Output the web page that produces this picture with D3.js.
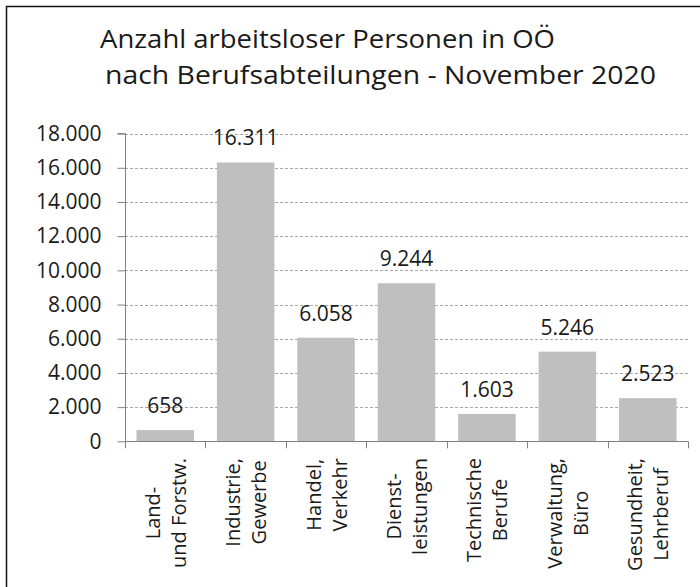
<!DOCTYPE html>
<html>
<head>
<meta charset="utf-8">
<script src="https://cdn.jsdelivr.net/npm/d3@7"></script>
<style>
  body { margin: 0; background: #fff; }
  text { font-family: "Open Sans", "Noto Sans", sans-serif; fill: #1a1a1a; }
</style>
</head>
<body>
<svg id="chart" width="700" height="587"></svg>
<script>
// data
var categories = [
  ["Land-", "und Forstw."],
  ["Industrie,", "Gewerbe"],
  ["Handel,", "Verkehr"],
  ["Dienst-", "leistungen"],
  ["Technische", "Berufe"],
  ["Verwaltung,", "Büro"],
  ["Gesundheit,", "Lehrberuf"]
];
var values = [658, 16311, 6058, 9244, 1603, 5246, 2523];
var yTicks = [0, 2000, 4000, 6000, 8000, 10000, 12000, 14000, 16000, 18000];
var titleLines = ["Anzahl arbeitsloser Personen in OÖ", "nach Berufsabteilungen - November 2020"];

// german number format: 16.311
var de = d3.formatLocale({decimal: ",", thousands: ".", grouping: [3], currency: ["", " €"]});
var fmt = de.format(",");

var svg = d3.select("#chart");

// outer frame, right and bottom edges run off the picture
svg.append("rect")
  .attr("x", 6.5).attr("y", 6.5)
  .attr("width", 720).attr("height", 620)
  .attr("fill", "none")
  .attr("stroke", "#111")
  .attr("stroke-width", 1.5);

// title, two left aligned lines
svg.append("text").attr("x", 100).attr("y", 48)
  .style("font-size", "26px")
  .attr("textLength", 455).attr("lengthAdjust", "spacingAndGlyphs")
  .text(titleLines[0]);
svg.append("text").attr("x", 105).attr("y", 84)
  .style("font-size", "26px")
  .attr("textLength", 551).attr("lengthAdjust", "spacingAndGlyphs")
  .text(titleLines[1]);

var x = d3.scaleBand()
  .domain(d3.range(categories.length))
  .range([125, 688])
  .paddingInner(0.285)
  .paddingOuter(0.1425);

var y = d3.scaleLinear()
  .domain([0, 18000])
  .range([441.3, 133.6]);

// dotted gridlines
svg.append("g")
  .selectAll("line")
  .data(yTicks.filter(function (d) { return d > 0; }))
  .enter()
  .append("line")
  .attr("x1", 125).attr("x2", 688)
  .attr("y1", function (d) { return Math.round(y(d)) + 0.5; })
  .attr("y2", function (d) { return Math.round(y(d)) + 0.5; })
  .attr("stroke", "#a6a6a6")
  .attr("stroke-dasharray", "3,2");

// bars
svg.append("g")
  .selectAll("rect")
  .data(values)
  .enter()
  .append("rect")
  .attr("x", function (d, i) { return x(i); })
  .attr("width", x.bandwidth())
  .attr("y", function (d) { return y(d); })
  .attr("height", function (d) { return y(0) - y(d); })
  .attr("fill", "#bfbfbf");

// value labels above bars
svg.append("g")
  .selectAll("text")
  .data(values)
  .enter()
  .append("text")
  .attr("x", function (d, i) { return x(i) + x.bandwidth() / 2; })
  .attr("y", function (d) { return y(d) - 17; })
  .attr("text-anchor", "middle")
  .style("font-size", "21px")
  .text(function (d) { return fmt(d); });

// y axis
var yAxis = d3.axisLeft(y)
  .tickValues(yTicks)
  .tickFormat(fmt)
  .tickSize(8)
  .tickPadding(16);

var yG = svg.append("g")
  .attr("transform", "translate(125.5,0)")
  .call(yAxis);
yG.select(".domain").attr("stroke", "#808080").attr("d", "M-8," + y(18000) + "H0V" + (y(0) + 0.5));
yG.selectAll(".tick line").attr("stroke", "#808080");
yG.selectAll(".tick text")
  .style("font-size", "21px")
  .style("font-family", "'Open Sans', 'Noto Sans', sans-serif")
  .attr("fill", "#1a1a1a");

// x axis line and category boundary ticks
var xG = svg.append("g");
xG.append("line")
  .attr("x1", 125).attr("x2", 688)
  .attr("y1", Math.round(y(0)) + 0.5).attr("y2", Math.round(y(0)) + 0.5)
  .attr("stroke", "#808080");
xG.selectAll(".bound")
  .data(d3.range(categories.length + 1))
  .enter()
  .append("line")
  .attr("class", "bound")
  .attr("x1", function (i) { return Math.round(125 + i * x.step()) + 0.5; })
  .attr("x2", function (i) { return Math.round(125 + i * x.step()) + 0.5; })
  .attr("y1", y(0)).attr("y2", y(0) + 7)
  .attr("stroke", "#808080");

// rotated two line category labels, top aligned under the axis
var labelTop = 458;
categories.forEach(function (lines, i) {
  var cx = x(i) + x.bandwidth() / 2;
  var g = svg.append("g");
  var texts = lines.map(function (t, j) {
    return g.append("text")
      .attr("text-anchor", "middle")
      .attr("dominant-baseline", "central")
      .style("font-size", "20px")
      .text(t);
  });
  var maxLen = d3.max(texts, function (t) { return t.node().getComputedTextLength(); });
  var cy = labelTop + maxLen / 2;
  texts.forEach(function (t, j) {
    var lx = cx + (j === 0 ? -13 : 13);
    t.attr("transform", "translate(" + lx + "," + cy + ") rotate(-90)");
  });
});
</script>
</body>
</html>
